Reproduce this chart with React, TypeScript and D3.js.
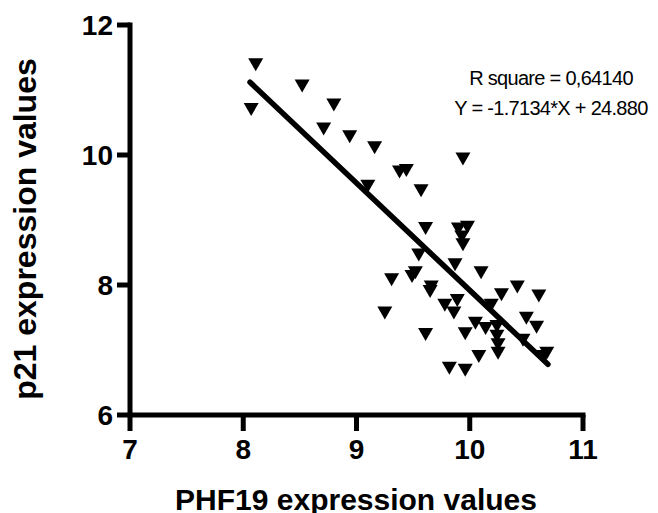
import React from "react";
import * as d3 from "d3";

const phf19 = [
  8.11, 8.52, 8.07, 8.8, 8.71, 8.94, 9.16, 9.38, 9.44, 9.1, 9.57, 9.94,
  9.61, 9.9, 9.98, 9.93, 9.94, 9.55, 9.87, 10.1, 9.52, 9.49, 9.31, 9.66,
  9.65, 10.42, 10.28, 10.61, 9.78, 9.89, 9.86, 10.19, 9.25, 10.05, 10.14,
  9.96, 10.24, 10.24, 10.25, 10.25, 10.5, 10.59, 10.47, 10.68, 10.65,
  10.08, 9.61, 9.96, 9.82,
];
const p21 = [
  11.39, 11.06, 10.7, 10.77, 10.4, 10.28, 10.11, 9.74, 9.76, 9.52, 9.45,
  9.94, 8.87, 8.86, 8.89, 8.74, 8.62, 8.46, 8.31, 8.19, 8.19, 8.13, 8.08,
  7.97, 7.9, 7.97, 7.85, 7.83, 7.69, 7.76, 7.57, 7.69, 7.57, 7.41, 7.33,
  7.25, 7.36, 7.21, 7.08, 6.95, 7.49, 7.35, 7.15, 6.95, 6.9, 6.9, 7.24,
  6.69, 6.72,
];
const fitX = [8.06, 10.69];
const fitY = [11.12, 6.78];
const xTicks = [7, 8, 9, 10, 11];
const yTicks = [6, 8, 10, 12];
const xTitle = "PHF19 expression values";
const yTitle = "p21 expression values";
const note1 = "R square = 0,64140";
const note2 = "Y = -1.7134*X + 24.880";

export default function App() {
  const x = d3.scaleLinear().domain([7, 11]).range([130, 583]);
  const y = d3.scaleLinear().domain([6, 12]).range([415, 25]);
  const font = "'Liberation Sans', Arial, Helvetica, sans-serif";
  const sw = 5;
  const tri = (cx: number, cy: number) =>
    `M${cx - 7.5},${cy - 6.5}L${cx + 7.5},${cy - 6.5}L${cx},${cy + 6.5}Z`;
  const line = d3
    .line<number>()
    .x((_, i) => x(fitX[i]))
    .y((d) => y(d));
  return (
    <div style={{ position: "absolute", left: 0, top: 0 }}>
      <svg width={658} height={513} style={{ display: "block", background: "#fff" }}>
        {/* points */}
        <g fill="#000">
          {phf19.map((v, i) => (
            <path key={i} d={tri(x(v), y(p21[i]))} />
          ))}
        </g>
        {/* regression line */}
        <path d={line(fitY) || ""} stroke="#000" strokeWidth={5.5} strokeLinecap="round" fill="none" />
        {/* axes */}
        <g stroke="#000" strokeWidth={sw} fill="none">
          <line x1={x(7)} x2={x(7)} y1={y(12) - sw / 2} y2={y(6)} />
          <line x1={x(7) - sw / 2} x2={x(11) + sw / 2} y1={y(6)} y2={y(6)} />
          {yTicks.map((t) => (
            <line key={"yt" + t} x1={x(7) - 13} x2={x(7)} y1={y(t)} y2={y(t)} />
          ))}
          {xTicks.map((t) => (
            <line key={"xt" + t} x1={x(t)} x2={x(t)} y1={y(6)} y2={y(6) + 16} />
          ))}
        </g>
        <g fontFamily={font} fontWeight="bold" fontSize={28} fill="#000">
          {yTicks.map((t) => (
            <text key={"yl" + t} x={113} y={y(t) + 10} textAnchor="end">
              {t}
            </text>
          ))}
          {xTicks.map((t) => (
            <text key={"xl" + t} x={x(t)} y={459} textAnchor="middle">
              {t}
            </text>
          ))}
        </g>
        <text x={356} y={510} textAnchor="middle" fontFamily={font} fontWeight="bold" fontSize={30}>
          {xTitle}
        </text>
        <text
          transform={`translate(36,229) rotate(-90)`}
          textAnchor="middle"
          fontFamily={font}
          fontWeight="bold"
          fontSize={32}
        >
          {yTitle}
        </text>
        <g fontFamily={font} fontSize={20} letterSpacing={-0.7} textAnchor="middle" fill="#000">
          <text x={551} y={85}>{note1}</text>
          <text x={551} y={115}>{note2}</text>
        </g>
      </svg>
    </div>
  );
}
